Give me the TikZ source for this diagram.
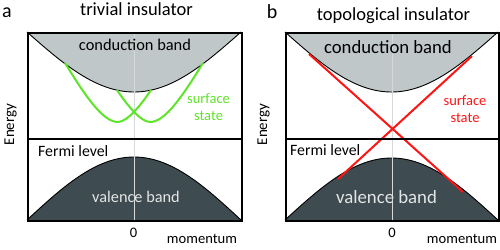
\documentclass[tikz,border=0pt]{standalone}
\usepackage{fontspec}
\setmainfont{Carlito}
\definecolor{cband}{RGB}{192,199,200}
\definecolor{vband}{RGB}{62,75,80}
\definecolor{sgreen}{RGB}{94,228,40}
\definecolor{sred}{RGB}{255,20,20}
\definecolor{axisline}{RGB}{212,218,218}
\definecolor{vtext}{RGB}{228,230,230}
\tikzset{
  fs/.style={font=\fontsize{#1}{#1}\selectfont},
  lbl/.style={inner sep=0pt, anchor=base},
  boxline/.style={line width=1.5pt, black},
  bandedge/.style={line width=0.9pt, black},
  gcurve/.style={line width=2pt, sgreen},
  rcurve/.style={line width=2pt, sred},
}
\begin{document}
\begin{tikzpicture}[x=1pt,y=-1pt]
\useasboundingbox (0,0) rectangle (500,249);
% ---------- panel a ----------
\fill[cband] (27,32) -- plot[domain=-107:107,samples=80] ({134+\x},{92-60*(1-cos(90*\x/107))}) -- cycle;
\draw[bandedge] plot[domain=-107:107,samples=80] ({134+\x},{92-60*(1-cos(90*\x/107))});
\fill[vband] (27,220) -- plot[domain=-107:107,samples=80] ({134+\x},{157+63*(1-cos(90*\x/107))}) -- cycle;
\draw[bandedge] plot[domain=-107:107,samples=80] ({134+\x},{157+63*(1-cos(90*\x/107))});
\coordinate (atop) at (134,32);
\coordinate (abot) at (134,220);
\draw[axisline, line width=1pt] (atop) -- (abot);
\draw[gcurve] (65,63) .. controls (86,97) and (103,122) .. (118,122) .. controls (128,122) and (143,102) .. (151,90);
\draw[gcurve] (203,63) .. controls (182,97) and (165,122) .. (150,122) .. controls (140,122) and (125,102) .. (117,90);
\coordinate (aFl) at (27,139);
\coordinate (aFr) at (241,139);
\draw[line width=1.2pt] (aFl) -- (aFr);
\node[boxline, draw, inner sep=0pt, minimum width=214pt, minimum height=188pt, anchor=north west] (boxa) at (27,32) {};
\node[lbl, fs=20] (la) at (7,17) {a};
\node[lbl, fs=18.5] (ta) at (136.5,16) {trivial insulator};
\node[lbl, fs=16.4] (cba) at (135,50) {conduction band};
\node[lbl, fs=14.5, text=sgreen] (ssa1) at (208.5,103) {surface};
\node[lbl, fs=14.5, text=sgreen] (ssa2) at (208.5,120) {state};
\node[lbl, fs=15.8, anchor=base west] (fla) at (38,156) {Fermi level};
\node[lbl, fs=16.3, text=vtext] (vba) at (136,202) {valence band};
\node[lbl, fs=14.5] (za) at (133.5,237) {0};
\node[lbl, fs=14.6] (ma) at (202,243) {momentum};
\node[lbl, fs=15, rotate=90] (ea) at (14,124.5) {Energy};
% ---------- panel b ----------
\fill[cband] (285,32) -- plot[domain=-106.5:106.5,samples=80] ({391.5+\x},{92-60*(1-cos(90*\x/106.5))}) -- cycle;
\draw[bandedge] plot[domain=-106.5:106.5,samples=80] ({391.5+\x},{92-60*(1-cos(90*\x/106.5))});
\fill[vband] (285,220) -- plot[domain=-106.5:106.5,samples=80] ({391.5+\x},{158+62*(1-cos(90*\x/106.5))}) -- cycle;
\draw[bandedge] plot[domain=-106.5:106.5,samples=80] ({391.5+\x},{158+62*(1-cos(90*\x/106.5))});
\coordinate (btop) at (392.5,32);
\coordinate (bbot) at (392.5,220);
\draw[axisline, line width=1pt] (btop) -- (bbot);
\coordinate (r1a) at (309,54);
\coordinate (r1b) at (463,192);
\coordinate (r2a) at (472,56);
\coordinate (r2b) at (338,179);
\draw[rcurve] (r1a) -- (r1b);
\draw[rcurve] (r2a) -- (r2b);
\coordinate (bFl) at (285,139);
\coordinate (bFr) at (498,139);
\draw[line width=1.2pt] (bFl) -- (bFr);
\node[boxline, draw, inner sep=0pt, minimum width=213pt, minimum height=188pt, anchor=north west] (boxb) at (285,32) {};
\node[lbl, fs=20] (lb) at (272,18) {b};
\node[lbl, fs=18.5] (tb) at (393.5,20) {topological insulator};
\node[lbl, fs=18.7] (cbb) at (388,53) {conduction band};
\node[lbl, fs=14.5, text=sred] (ssb1) at (465,105) {surface};
\node[lbl, fs=14.5, text=sred] (ssb2) at (465,122) {state};
\node[lbl, fs=15.8, anchor=base west] (flb) at (290,155) {Fermi level};
\node[lbl, fs=18.8, text=vtext] (vbb) at (386.5,203) {valence band};
\node[lbl, fs=14.5] (zb) at (392,237) {0};
\node[lbl, fs=14.6] (mb) at (462,243) {momentum};
\node[lbl, fs=15, rotate=90] (eb) at (267,124.5) {Energy};
\end{tikzpicture}
\end{document}
